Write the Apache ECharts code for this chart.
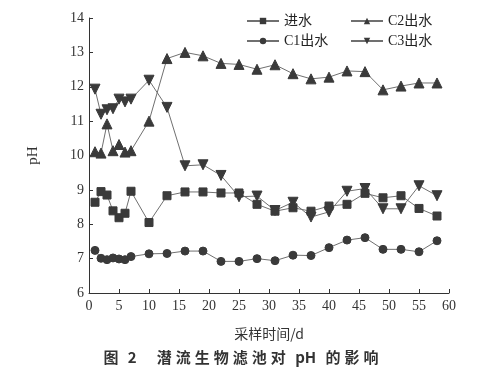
<!DOCTYPE html>
<html>
<head>
<meta charset="utf-8">
<script src="https://cdn.jsdelivr.net/npm/echarts@6/dist/echarts.min.js"></script>
<style>html,body{margin:0;padding:0;background:#fff;}#c{width:482px;height:372px;}</style>
</head>
<body>
<div id="c"></div>
<script>
var days = [1,2,3,4,5,6,7,10,13,16,19,22,25,28,31,34,37,40,43,46,49,52,55,58];
var inflow = [8.64,8.95,8.85,8.39,8.19,8.32,8.96,8.05,8.83,8.94,8.94,8.91,8.91,8.58,8.38,8.48,8.38,8.53,8.58,8.90,8.77,8.83,8.46,8.24];
var c1 = [7.24,7.01,6.97,7.02,6.99,6.97,7.06,7.14,7.15,7.22,7.22,6.92,6.92,7.00,6.94,7.10,7.09,7.32,7.54,7.61,7.27,7.27,7.20,7.52];
var c2 = [10.11,10.07,10.92,10.14,10.32,10.10,10.14,11.00,12.82,13.00,12.90,12.68,12.65,12.51,12.64,12.38,12.23,12.28,12.46,12.44,11.91,12.02,12.11,12.11];
var c3 = [11.93,11.20,11.33,11.36,11.64,11.56,11.64,12.19,11.40,9.70,9.73,9.42,8.80,8.82,8.40,8.64,8.21,8.36,8.96,9.04,8.45,8.45,9.12,8.83];
var names = ['进水','C1出水','C2出水','C3出水'];
var xTicks = {min:0, max:60, interval:5};
var yTicks = {min:6, max:14, interval:1};
var xName = '采样时间/d';
var yName = 'pH';
var caption = '图 2   潜流生物滤池对 pH 的影响';

function pairs(v){ return days.map(function(d,i){ return [d, v[i]]; }); }
var serif = "'Liberation Serif','Noto Sans CJK SC',serif";
var markerColor = '#3a3a3a';
var lineColor = '#707070';
function mk(name, data, symbol, size, rot){
  return {
    name:name, type:'line', data:pairs(data), symbol:symbol, symbolSize:size,
    symbolRotate: rot||0, showAllSymbol:true,
    lineStyle:{color:lineColor, width:1},
    itemStyle:{color:markerColor, borderColor:markerColor},
    animation:false
  };
}
// caption with spaced characters via rich text (ASCII runs kept together)
var capTokens = caption.match(/ |[A-Za-z0-9]+|[^ A-Za-z0-9]/g);
var capRich = capTokens.map(function(t){
  return t === ' ' ? '{s| }' : '{c|' + t + '}';
}).join('');

var chart = echarts.init(document.getElementById('c'));
chart.setOption({
  backgroundColor:'#fff',
  animation:false,
  grid:{left:89, right:33, top:18, bottom:79, containLabel:false},
  legend:[
    {left:246, top:14, padding:0, orient:'vertical', itemGap:6, itemWidth:32, itemHeight:8,
     data:[names[0], names[1]], textStyle:{fontFamily:serif, fontSize:14, color:'#222'}},
    {left:350, top:14, padding:0, orient:'vertical', itemGap:6, itemWidth:32, itemHeight:8,
     data:[names[2], names[3]], textStyle:{fontFamily:serif, fontSize:14, color:'#222'}}
  ],
  xAxis:{
    type:'value', min:xTicks.min, max:xTicks.max, interval:xTicks.interval,
    name:xName, nameLocation:'middle', nameGap:34,
    nameTextStyle:{fontFamily:"'Noto Sans CJK SC',sans-serif", fontSize:14, color:'#333'},
    axisLine:{lineStyle:{color:'#333', width:1}},
    axisTick:{inside:true, length:4, lineStyle:{color:'#333'}},
    axisLabel:{fontFamily:serif, fontSize:14, color:'#333', margin:6},
    splitLine:{show:false}
  },
  yAxis:{
    type:'value', min:yTicks.min, max:yTicks.max, interval:yTicks.interval,
    name:yName, nameLocation:'middle', nameGap:48, nameRotate:90,
    nameTextStyle:{fontFamily:serif, fontSize:15, color:'#333'},
    axisLine:{show:true, lineStyle:{color:'#333', width:1}},
    axisTick:{show:true, inside:true, length:4, lineStyle:{color:'#333'}},
    axisLabel:{fontFamily:serif, fontSize:14, color:'#333', margin:5},
    splitLine:{show:false}
  },
  graphic:[{
    type:'text', left:'center', top:350,
    style:{
      text:capRich,
      rich:{
        c:{fontFamily:"'Noto Sans CJK SC', sans-serif", fontSize:15, fontWeight:600, fill:'#333', padding:[0,2,0,2]},
        s:{fontFamily:"'Noto Sans CJK SC', sans-serif", fontSize:15, fill:'#333', padding:[0,1,0,1]}
      }
    }
  }],
  series:[
    mk(names[0], inflow, 'rect', 8),
    mk(names[1], c1, 'circle', 8),
    mk(names[2], c2, 'triangle', 10),
    mk(names[3], c3, 'triangle', 10, 180)
  ]
});
</script>
</body>
</html>
